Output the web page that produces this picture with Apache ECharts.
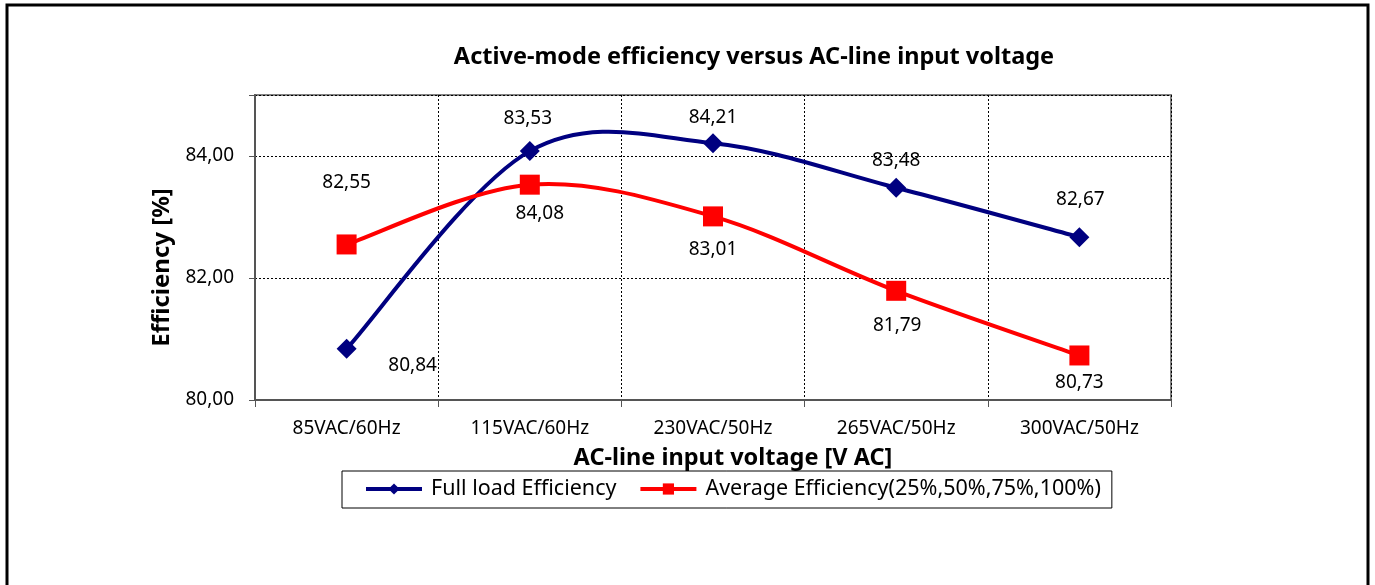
<!DOCTYPE html>
<html>
<head>
<meta charset="utf-8">
<script src="https://cdn.jsdelivr.net/npm/echarts@6/dist/echarts.min.js"></script>
<style>
html, body { margin: 0; padding: 0; background: #fff; }
#chart { width: 1375px; height: 585px; }
</style>
</head>
<body>
<div id="chart"></div>
<script>
const categories = ['85VAC/60Hz', '115VAC/60Hz', '230VAC/50Hz', '265VAC/50Hz', '300VAC/50Hz']
const fullLoad = [80.84, 84.08, 84.21, 83.48, 82.67]
const average = [82.55, 83.53, 83.01, 81.79, 80.73]
// label texts as printed on the original (the two at 115VAC are swapped there)
const fullLoadLabels = ['80,84', '83,53', '84,21', '83,48', '82,67']
const averageLabels = ['82,55', '84,08', '83,01', '81,79', '80,73']

// where each label sits relative to its marker
const fullLoadOffsets = [[66, 17], [-2, -33], [0, -26], [0, -27], [1, -38]]
const averageOffsets = [[0, -62], [10, 29], [0, 33], [1, 35], [0, 27]]

const font = '"Noto Sans", sans-serif'
const blue = '#000080'
const red = '#ff0000'

function withLabels(values, texts, offsets) {
    return values.map((v, i) => ({
        value: v,
        label: { formatter: texts[i], offset: offsets[i] }
    }))
}

// Excel-like smoothed line: one cubic bezier per segment (catmull-rom control points)
function curveSeries(name, values, color) {
    const last = values.length - 1
    return {
        name: name,
        type: 'custom',
        silent: true,
        z: 1,
        data: values.map((v, i) => [i, v]),
        renderItem: (params, api) => {
            const i = params.dataIndex
            if (i >= last) return
            const pt = k => {
                k = Math.max(0, Math.min(last, k))
                return api.coord([k, values[k]])
            }
            const p0 = pt(i - 1), p1 = pt(i), p2 = pt(i + 1), p3 = pt(i + 2)
            return {
                type: 'bezierCurve',
                shape: {
                    x1: p1[0], y1: p1[1],
                    x2: p2[0], y2: p2[1],
                    cpx1: p1[0] + (p2[0] - p0[0]) / 6,
                    cpy1: p1[1] + (p2[1] - p0[1]) / 6,
                    cpx2: p2[0] - (p3[0] - p1[0]) / 6,
                    cpy2: p2[1] - (p3[1] - p1[1]) / 6
                },
                style: { stroke: color, lineWidth: 4, fill: null }
            }
        }
    }
}

let myChart = echarts.init(document.getElementById('chart'))

let option = {
    animation: false,
    textStyle: { fontFamily: font },
    graphic: [
        {
            type: 'rect',
            shape: { x: 7, y: 5, width: 1361, height: 600 },
            style: { fill: 'none', stroke: '#000', lineWidth: 3 },
            silent: true
        },
        {
            type: 'text',
            x: 754,
            y: 57,
            style: {
                text: 'Active-mode efficiency versus AC-line input voltage',
                font: 'bold 23.5px ' + font,
                fill: '#000',
                align: 'center',
                verticalAlign: 'middle'
            }
        }
    ],
    grid: {
        left: 255,
        right: 204,
        top: 95,
        bottom: 185,
        show: true,
        borderColor: '#808080',
        borderWidth: 2
    },
    legend: {
        data: ['Full load Efficiency', 'Average Efficiency(25%,50%,75%,100%)'],
        left: 342,
        top: 471,
        itemGap: 22,
        itemWidth: 56,
        itemHeight: 14,
        padding: [7, 11, 8, 22],
        borderColor: '#000',
        borderWidth: 1,
        lineStyle: { width: 4, opacity: 1 },
        textStyle: { fontSize: 21.5, color: '#000', fontFamily: font, padding: [0, 0, 0, 4] }
    },
    xAxis: {
        type: 'category',
        data: categories,
        name: 'AC-line input voltage [V AC]',
        nameLocation: 'middle',
        nameGap: 46,
        nameTextStyle: { fontSize: 23.5, fontWeight: 'bold', color: '#000', padding: [0, 0, 0, 40] },
        axisLine: { lineStyle: { color: '#555', width: 2 } },
        axisTick: { show: true, length: 7, lineStyle: { color: '#555' } },
        axisLabel: { fontSize: 19, color: '#000', margin: 19 },
        splitLine: { show: true, lineStyle: { color: '#000', type: [2, 2], width: 1 } }
    },
    yAxis: {
        type: 'value',
        min: 80,
        max: 85,
        interval: 2,
        name: 'Efficiency [%]',
        nameLocation: 'middle',
        nameGap: 62,
        nameTextStyle: { fontSize: 24, fontWeight: 'bold', color: '#000', padding: [0, 40, 0, 0] },
        axisLine: { show: true, lineStyle: { color: '#555', width: 2 } },
        axisTick: { show: true, length: 6, lineStyle: { color: '#555' } },
        axisLabel: {
            fontSize: 19,
            color: '#000',
            margin: 21,
            formatter: v => (v % 2 === 0 ? v.toFixed(2).replace('.', ',') : '')
        },
        splitLine: { show: true, lineStyle: { color: '#000', type: [2, 2], width: 1 } }
    },
    series: [
        curveSeries('Full load curve', fullLoad, blue),
        curveSeries('Average curve', average, red),
        {
            name: 'Full load Efficiency',
            type: 'line',
            z: 3,
            data: withLabels(fullLoad, fullLoadLabels, fullLoadOffsets),
            symbol: 'diamond',
            symbolSize: 20,
            color: blue,
            lineStyle: { width: 4, color: blue, opacity: 0 },
            label: { show: true, position: 'inside', fontSize: 19, color: '#000', fontFamily: font }
        },
        {
            name: 'Average Efficiency(25%,50%,75%,100%)',
            type: 'line',
            z: 3,
            data: withLabels(average, averageLabels, averageOffsets),
            symbol: 'rect',
            symbolSize: 20,
            color: red,
            lineStyle: { width: 4, color: red, opacity: 0 },
            label: { show: true, position: 'inside', fontSize: 19, color: '#000', fontFamily: font }
        }
    ]
}
myChart.setOption(option)

window.addEventListener('resize', () => {
    myChart.resize()
})
</script>
</body>
</html>
